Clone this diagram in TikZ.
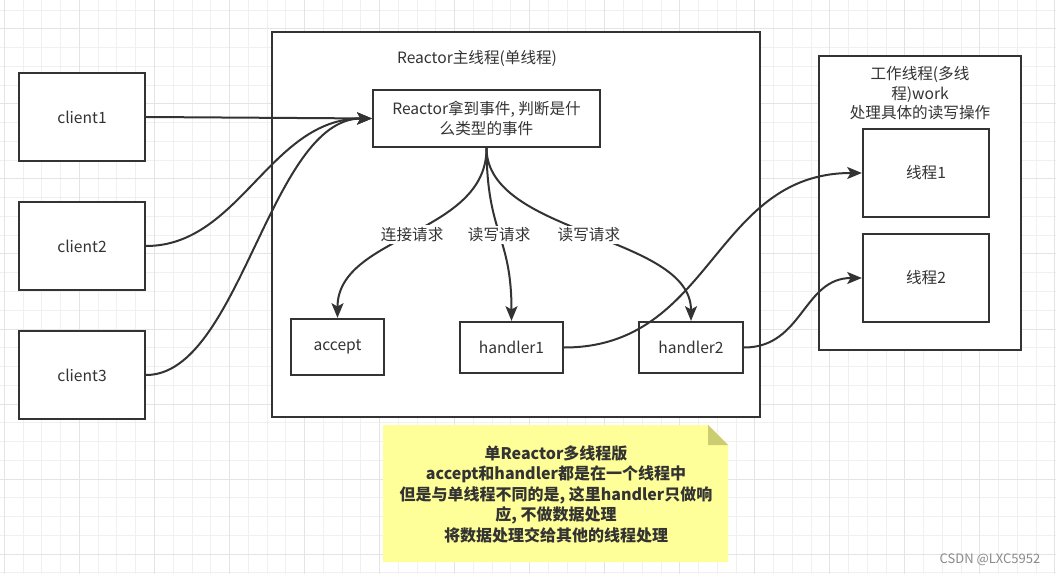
\documentclass[tikz,border=0pt]{standalone}
\usepackage{fontspec}
\setmainfont{Noto Sans CJK SC}
\usetikzlibrary{arrows.meta}
\definecolor{ink}{HTML}{333333}
\definecolor{gridminor}{HTML}{F0F0F0}
\definecolor{gridmajor}{HTML}{E4E4E4}
\definecolor{notefill}{HTML}{FFFF99}
\definecolor{notefold}{HTML}{CCCC70}
\definecolor{wmgray}{HTML}{8A8A8A}
\tikzset{
  box/.style={draw=ink, fill=white, line width=1.7pt, inner sep=0pt, align=center},
  conn/.style={draw=ink, line width=1.5pt, -{Stealth[length=11pt,width=9pt,inset=2.5pt]}},
  lbl/.style={fill=white, inner sep=1.5pt, text=ink},
  gline/.style={line width=0.6pt}
}
\begin{document}
\begin{tikzpicture}[x=0.75pt, y=-0.75pt, font=\fontsize{11.7pt}{15pt}\selectfont, text=ink]
\useasboundingbox (0,0) rectangle (1056,574);
\fill[white] (0,0) rectangle (1056,574);
% background grid
\foreach \i in {0,...,56} {\draw[gline, gridminor] ({4.3+18.76*\i},0) -- ({4.3+18.76*\i},574);}
\foreach \j in {0,...,30} {\draw[gline, gridminor] (0,{10+18.76*\j}) -- (1056,{10+18.76*\j});}
\foreach \i in {0,4,...,56} {\draw[gline, gridmajor] ({4.3+18.76*\i},0) -- ({4.3+18.76*\i},574);}
\foreach \j in {1,5,...,29} {\draw[gline, gridmajor] (0,{10+18.76*\j}) -- (1056,{10+18.76*\j});}

% clients
\node[box, minimum width=94.5pt, minimum height=66pt] (c1) at (82,117) {client1};
\node[box, minimum width=94.5pt, minimum height=66pt] (c2) at (82,246) {client2};
\node[box, minimum width=94.5pt, minimum height=66pt] (c3) at (82,375) {client3};

% reactor main thread
\node[box, minimum width=366pt, minimum height=288.75pt] (rmain) at (516,224.5) {};
\node (rtitle) at (477,58) {Reactor主线程(单线程)};
\node[box, minimum width=170.25pt, minimum height=42.75pt] (ev) at (486.5,118.5) {Reactor拿到事件, 判断是什\\么类型的事件};
\node[box, minimum width=69.75pt, minimum height=42pt] (acc) at (337.5,347) {accept};
\node[box, minimum width=77.25pt, minimum height=38.25pt] (h1) at (511.5,347.5) {handler1};
\node[box, minimum width=78pt, minimum height=38.25pt] (h2) at (691,347.5) {handler2};

% worker threads
\node[box, minimum width=151.5pt, minimum height=220.5pt] (work) at (920,203) {};
\node[align=center, font=\fontsize{11.7pt}{14.6pt}\selectfont] (wtitle) at (920,93.5) {工作线程(多线\\程)work\\处理具体的读写操作};
\node[box, minimum width=94.5pt, minimum height=66pt] (t1) at (926,173) {线程1};
\node[box, minimum width=94.5pt, minimum height=66pt] (t2) at (926,278) {线程2};

% connectors
\draw[conn] (c1.east) -- (ev.west);
\draw[conn] (c2.east) .. controls (240,246) and (270,118.5) .. (ev.west);
\draw[conn] (c3.east) .. controls (240,375) and (270,118.5) .. (ev.west);
\draw[conn] (ev.south) .. controls (487,235) and (337.5,235) .. (acc.north) node[lbl, pos=0.5] (l1) {连接请求};
\draw[conn] (ev.south) .. controls (487,235) and (511.5,235) .. (h1.north) node[lbl, pos=0.5] (l2) {读写请求};
\draw[conn] (ev.south) .. controls (487,235) and (691,235) .. (h2.north) node[lbl, pos=0.5] (l3) {读写请求};
\draw[conn] (h1.east) .. controls (713,347.5) and (713,173) .. (t1.west);
\draw[conn] (h2.east) .. controls (803,347.5) and (803,278) .. (t2.west);

% note
\fill[notefill] (383,425) -- (708,425) -- (728,445) -- (728,562) -- (383,562) -- cycle;
\fill[notefold] (708,425) -- (728,445) -- (708,445) -- cycle;
\node[align=center, font=\fontsize{12pt}{15.4pt}\selectfont\bfseries] (note) at (556,494) {单Reactor多线程版\\accept和handler都是在一个线程中\\但是与单线程不同的是, 这里handler只做响\\应, 不做数据处理\\将数据处理交给其他的线程处理};

% watermark
\node[text=wmgray, font=\fontsize{9.75pt}{12pt}\selectfont] (wm) at (990,560) {CSDN @LXC5952};
\end{tikzpicture}
\end{document}
